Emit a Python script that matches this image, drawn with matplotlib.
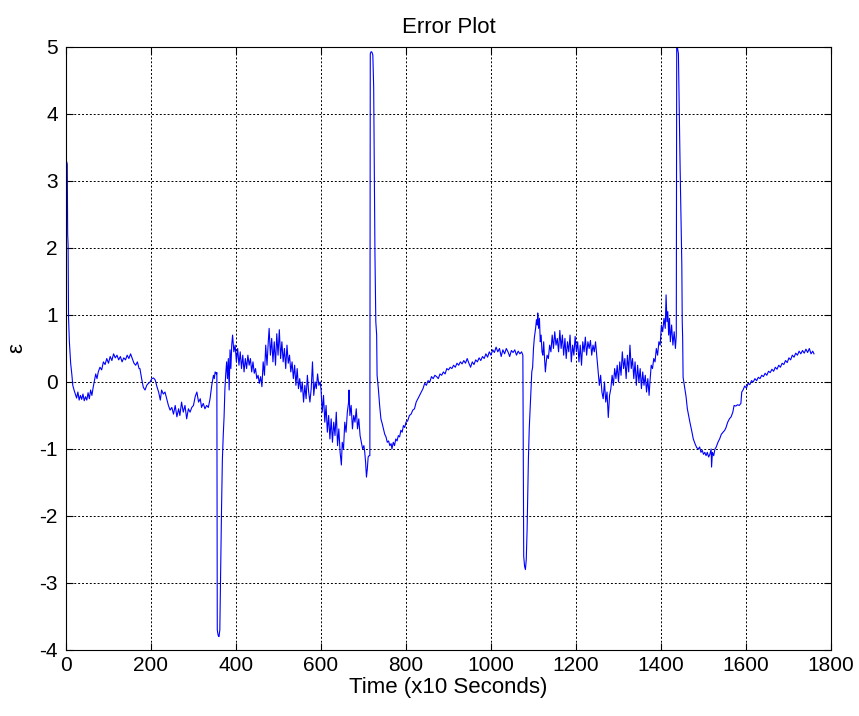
import matplotlib
matplotlib.use('Agg')
import matplotlib.pyplot as plt

# Error signal samples (time in x10 seconds, error)
time_a = [0, 2, 3, 4, 5, 6, 8, 11, 14, 16, 19, 22, 25, 28, 31, 34, 37, 40, 43, 46, 49, 52, 55, 58, 61, 64, 67, 70,
          73, 76, 80, 84, 88, 92, 96, 100, 104, 108, 112, 116, 120, 124, 128, 132, 136, 140, 144, 148, 152, 156,
          160, 164, 168, 172, 174, 178, 182, 186, 190, 194, 198, 202, 206, 210, 214, 218, 222, 225, 229, 233,
          237, 241, 245, 249, 253, 257, 261, 265, 268, 272, 276, 280, 284, 288, 292, 296, 300, 304, 308, 312,
          316, 319, 323, 327, 331, 335, 339, 343, 347, 349, 351, 354, 355]
err_a = [3.30, 3.28, 3.25, 2.20, 2.05, 0.97, 0.60, 0.28, 0.10, -0.05, -0.12, -0.18, -0.24, -0.15, -0.27, -0.20,
         -0.26, -0.18, -0.28, -0.22, -0.27, -0.16, -0.25, -0.12, -0.20, -0.08, 0.02, 0.12, 0.05, 0.15, 0.22, 0.18,
         0.30, 0.26, 0.35, 0.28, 0.38, 0.32, 0.42, 0.36, 0.40, 0.33, 0.38, 0.30, 0.36, 0.33, 0.40, 0.35, 0.42,
         0.35, 0.28, 0.25, 0.30, 0.20, 0.20, 0.05, -0.08, -0.12, -0.05, -0.02, 0.00, 0.05, 0.06, 0.03, -0.07,
         -0.15, -0.27, -0.12, -0.18, -0.15, -0.25, -0.35, -0.42, -0.38, -0.48, -0.35, -0.52, -0.40, -0.50,
         -0.30, -0.45, -0.35, -0.55, -0.40, -0.45, -0.38, -0.35, -0.22, -0.15, -0.30, -0.25, -0.38, -0.32,
         -0.40, -0.35, -0.38, -0.25, -0.05, 0.10, 0.05, 0.15, 0.12, 0.14]

time_b = [356, 358, 360, 362, 364, 366, 368, 370, 372, 374, 376, 378, 380, 382, 384, 386, 388, 390, 392, 395,
          398, 401, 404, 407, 410, 413, 416, 419, 422, 425, 428, 431, 434, 437, 440, 443, 446, 449, 452, 455,
          458, 461, 464, 467, 470, 473, 476, 478, 481, 484, 487, 490, 493, 496, 499, 502, 505, 508, 511, 514,
          517, 520, 523, 526, 529, 532, 535, 538, 541, 544, 547, 550, 553, 556, 559, 562, 565, 568, 571, 574,
          577, 580, 583, 586, 589, 592, 595, 598]
err_b = [-3.70, -3.78, -3.80, -3.70, -2.80, -1.90, -1.16, -0.80, -0.52, -0.10, 0.13, 0.30, 0.05, 0.35, -0.12,
         0.48, 0.20, 0.55, 0.70, 0.45, 0.55, 0.30, 0.50, 0.25, 0.45, 0.20, 0.40, 0.15, 0.35, 0.20, 0.40, 0.25,
         0.35, 0.15, 0.30, 0.13, 0.20, 0.05, 0.10, -0.02, 0.08, -0.07, 0.30, 0.10, 0.55, 0.25, 0.60, 0.80, 0.40,
         0.65, 0.30, 0.60, 0.25, 0.72, 0.40, 0.78, 0.35, 0.60, 0.30, 0.50, 0.20, 0.55, 0.28, 0.40, 0.15, 0.30,
         0.05, 0.25, -0.05, 0.20, -0.10, 0.05, -0.15, 0.00, -0.30, -0.05, -0.25, 0.10, -0.15, -0.30, -0.10,
         0.30, -0.20, 0.00, -0.10, 0.12, -0.05, 0.00]

time_c = [600, 603, 606, 609, 612, 615, 618, 621, 624, 627, 630, 633, 636, 639, 642, 645, 648, 650, 653, 656,
          659, 662, 665, 666, 668, 671, 674, 677, 680, 683, 686, 689, 692, 695, 698, 701, 703, 705, 707, 709,
          711, 713, 715, 716, 718, 720, 722, 724, 726, 727, 729, 731, 732, 735, 738, 741, 744, 747, 750, 753,
          756, 759, 762, 765, 767, 770, 773, 776, 779, 782, 785, 788, 791, 794, 797, 800, 804, 808, 812, 816,
          820, 824, 828, 832, 836, 840, 844, 848, 852, 856, 860, 864, 868, 872, 876, 880, 884, 888, 892, 896,
          900, 904, 908, 912, 916, 920, 924, 928, 932, 936, 940, 944]
err_c = [-0.10, -0.45, -0.20, -0.60, -0.35, -0.75, -0.50, -0.85, -0.55, -0.90, -0.60, -0.80, -0.45, -0.95,
         -0.70, -1.05, -1.24, -0.90, -1.00, -0.60, -0.75, -0.45, -0.30, -0.12, -0.50, -0.35, -0.70, -0.50,
         -0.60, -0.40, -0.70, -0.55, -0.80, -0.90, -1.00, -0.95, -1.05, -1.20, -1.42, -1.30, -1.12, -1.10,
         -1.10, 4.90, 4.93, 4.92, 4.88, 4.40, 2.60, 1.90, 0.90, 0.70, 0.10, -0.10, -0.35, -0.55, -0.62, -0.70,
         -0.78, -0.82, -0.90, -0.88, -0.95, -0.92, -1.00, -0.90, -0.95, -0.85, -0.88, -0.80, -0.82, -0.72,
         -0.75, -0.65, -0.68, -0.60, -0.58, -0.50, -0.48, -0.42, -0.40, -0.30, -0.25, -0.20, -0.15, -0.10,
         -0.02, -0.05, 0.02, 0.00, 0.08, 0.05, 0.10, 0.08, 0.05, 0.12, 0.10, 0.15, 0.12, 0.20, 0.18, 0.22,
         0.20, 0.25, 0.22, 0.28, 0.25, 0.30, 0.27, 0.32, 0.28, 0.35]

time_d = [948, 952, 956, 960, 964, 968, 972, 976, 980, 984, 988, 992, 996, 1000, 1004, 1008, 1012, 1016, 1020,
          1024, 1028, 1032, 1036, 1040, 1044, 1048, 1052, 1056, 1060, 1064, 1068, 1072, 1075, 1077, 1079, 1081,
          1083, 1085, 1088, 1090, 1093, 1096, 1098, 1100, 1102, 1105, 1107, 1109, 1110, 1112, 1114, 1116, 1118,
          1120, 1122, 1124, 1126, 1128, 1130, 1132, 1135, 1138, 1141, 1144, 1147, 1150, 1153, 1156, 1159, 1162,
          1165, 1168, 1171, 1174, 1177, 1180, 1183, 1186, 1189, 1192, 1195, 1198, 1201, 1204, 1207, 1210, 1213,
          1216, 1219, 1222, 1225, 1228, 1231, 1234, 1237, 1240, 1243, 1246, 1249, 1252, 1255, 1258, 1261, 1264,
          1267, 1270, 1273, 1276, 1279, 1282, 1285, 1288, 1291, 1294, 1297, 1300, 1303, 1306, 1309, 1312, 1315,
          1318, 1321, 1324, 1327, 1330, 1333, 1336, 1339, 1342, 1345, 1348, 1351, 1354, 1357, 1360, 1363, 1366,
          1369, 1372, 1374, 1377, 1380, 1383, 1386, 1389, 1392, 1395, 1398, 1401, 1404, 1407, 1410, 1412, 1414,
          1416, 1418, 1420, 1422, 1425, 1428, 1431, 1434, 1436]
err_d = [0.28, 0.22, 0.30, 0.26, 0.33, 0.30, 0.36, 0.32, 0.38, 0.35, 0.42, 0.37, 0.45, 0.40, 0.48, 0.44, 0.52,
         0.45, 0.50, 0.38, 0.48, 0.42, 0.50, 0.45, 0.38, 0.47, 0.44, 0.48, 0.40, 0.46, 0.42, 0.45, 0.40, -2.60,
         -2.75, -2.80, -2.65, -2.20, -1.16, -0.70, -0.27, 0.15, 0.22, 0.50, 0.66, 0.80, 0.93, 0.85, 1.03, 0.80,
         0.95, 0.60, 0.70, 0.45, 0.40, 0.60, 0.35, 0.15, 0.30, 0.40, 0.35, 0.55, 0.45, 0.70, 0.50, 0.75, 0.55,
         0.65, 0.45, 0.77, 0.50, 0.70, 0.40, 0.65, 0.35, 0.60, 0.45, 0.70, 0.30, 0.55, 0.40, 0.68, 0.45, 0.60,
         0.30, 0.55, 0.25, 0.60, 0.45, 0.67, 0.40, 0.60, 0.50, 0.62, 0.40, 0.55, 0.45, 0.60, 0.38, 0.15, -0.05,
         0.10, -0.15, -0.25, 0.00, -0.30, -0.15, -0.53, -0.20, -0.10, 0.10, -0.05, 0.20, 0.05, 0.25, 0.00, 0.30,
         0.10, 0.45, 0.20, 0.35, 0.05, 0.40, 0.15, 0.55, 0.20, 0.35, 0.05, 0.30, -0.05, 0.25, 0.00, 0.20, -0.10,
         0.15, -0.05, 0.10, -0.15, 0.05, -0.20, 0.00, 0.25, 0.20, 0.35, 0.30, 0.50, 0.40, 0.60, 0.55, 0.85, 0.75,
         0.95, 0.80, 1.30, 0.90, 1.05, 0.70, 0.95, 0.60, 0.85, 0.55, 0.75, 0.50, 0.70]

time_e = [1437, 1439, 1441, 1443, 1445, 1447, 1449, 1450, 1451, 1452, 1455, 1459, 1462, 1465, 1468, 1472, 1476,
          1480, 1484, 1488, 1491, 1494, 1497, 1500, 1503, 1506, 1509, 1512, 1515, 1518, 1519, 1521, 1524, 1527,
          1530, 1534, 1538, 1542, 1546, 1550, 1553, 1557, 1561, 1565, 1569, 1572, 1576, 1580, 1584, 1588, 1590,
          1593, 1597, 1601, 1605, 1609, 1613, 1617, 1621, 1625, 1629, 1633, 1637, 1641, 1645, 1649, 1653, 1657,
          1661, 1665, 1669, 1673, 1677, 1681, 1685, 1689, 1693, 1697, 1701, 1705, 1709, 1713, 1717, 1721, 1725,
          1729, 1733, 1737, 1741, 1745, 1749, 1753, 1757, 1760]
err_e = [5.00, 4.98, 4.90, 4.00, 3.20, 2.50, 1.75, 0.90, 0.65, 0.07, -0.05, -0.22, -0.40, -0.50, -0.60, -0.72,
         -0.85, -0.92, -0.98, -1.00, -0.97, -1.05, -1.02, -1.08, -1.05, -1.10, -1.05, -1.12, -1.08, -1.00, -1.27,
         -1.05, -1.10, -1.00, -0.97, -0.90, -0.85, -0.78, -0.75, -0.72, -0.68, -0.60, -0.55, -0.52, -0.45, -0.35,
         -0.36, -0.34, -0.35, -0.32, -0.15, -0.12, -0.06, -0.09, -0.02, -0.04, 0.02, 0.00, 0.05, 0.02, 0.07,
         0.05, 0.10, 0.08, 0.13, 0.10, 0.16, 0.14, 0.19, 0.16, 0.22, 0.19, 0.25, 0.22, 0.28, 0.26, 0.32, 0.29,
         0.36, 0.33, 0.40, 0.37, 0.43, 0.40, 0.46, 0.42, 0.47, 0.43, 0.49, 0.44, 0.50, 0.42, 0.46, 0.42]

time = time_a + time_b + time_c + time_d + time_e
err = err_a + err_b + err_c + err_d + err_e

xticks = [0, 200, 400, 600, 800, 1000, 1200, 1400, 1600, 1800]
yticks = [-4, -3, -2, -1, 0, 1, 2, 3, 4, 5]

plt.rcParams['font.family'] = ['Liberation Sans', 'DejaVu Sans']
plt.rcParams['axes.unicode_minus'] = False

fig = plt.figure(figsize=(8.59, 7.16), dpi=100)
ax = fig.add_axes([0.0768, 0.0922, 0.8906, 0.8422])

ax.plot(time, err, color='#0000ff', linewidth=0.8)

ax.set_xlim(0, 1800)
ax.set_ylim(-4, 5)
ax.set_xticks(xticks)
ax.set_yticks(yticks)
ax.grid(True, color='black', linestyle=(0, (2, 2)), linewidth=0.7)
ax.tick_params(direction='in', length=5, top=True, right=True, labelsize=15)
ax.tick_params(axis='x', pad=4)
ax.tick_params(axis='y', pad=6)
for s in ax.spines.values():
    s.set_linewidth(0.8)

ax.set_title('Error Plot', fontsize=16, pad=10)
ax.set_xlabel('Time (x10 Seconds)', fontsize=16, labelpad=2)
ax.set_ylabel('ε', fontsize=16)
ax.yaxis.set_label_coords(-0.05, 0.5)

fig.savefig('out.png', dpi=100)
